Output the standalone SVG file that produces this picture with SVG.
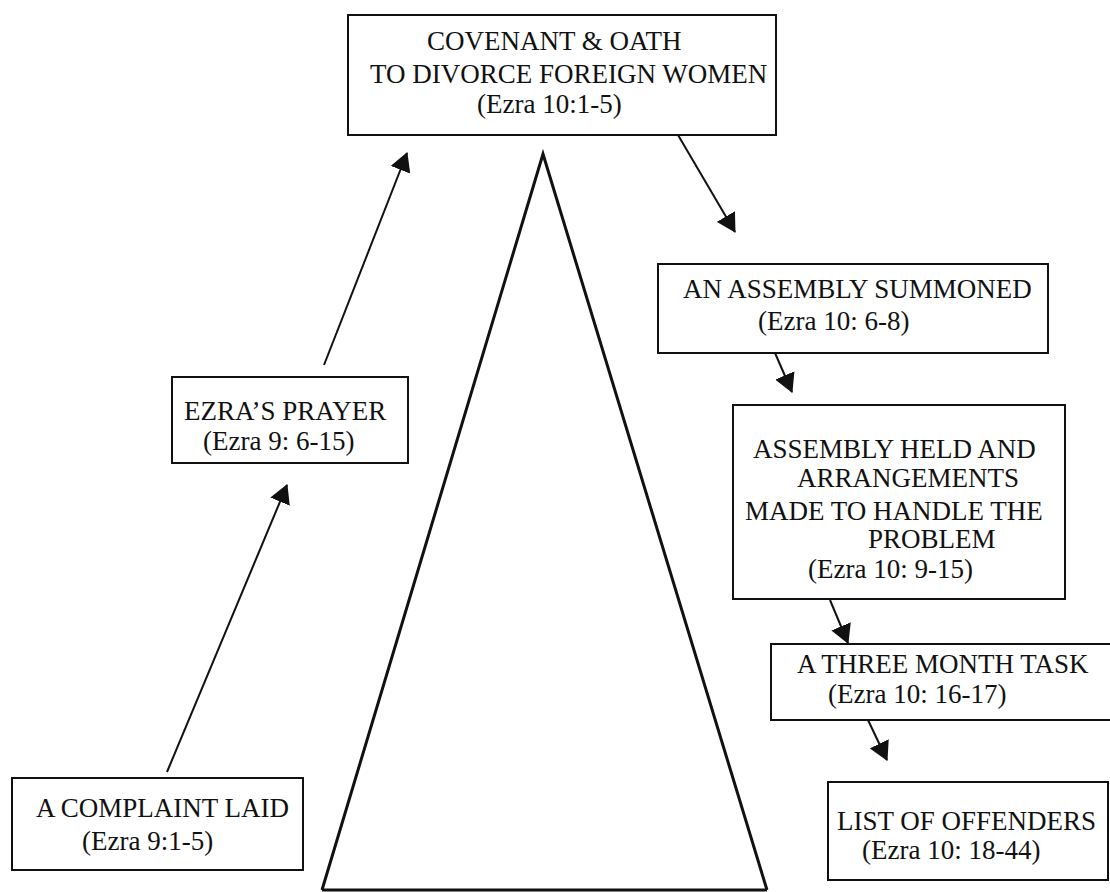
<svg xmlns="http://www.w3.org/2000/svg" width="1110" height="892" viewBox="0 0 1110 892">
<style>
.box{fill:#fff;stroke:#111;stroke-width:2}
.t{font-family:"Liberation Serif","Times New Roman",serif;font-size:27px;fill:#111}
.c{stroke:#111;stroke-width:2;fill:none}
.tri{stroke:#111;stroke-width:3;fill:none;stroke-linejoin:miter}
</style>
<defs>
<marker id="ah" markerUnits="userSpaceOnUse" markerWidth="19" markerHeight="21" viewBox="0 0 19 21" refX="18" refY="10.5" orient="auto">
<path d="M0,0 L19,10.5 L0,21 z" fill="#111"/>
</marker>
</defs>
<rect width="1110" height="892" fill="#fff"/>
<g id="pyramid">
<polyline class="tri" points="322,890 543,154 767,890"/>
<line class="tri" x1="322" y1="890" x2="767" y2="890"/>
</g>
<g id="connectors">
<line class="c" x1="167" y1="772" x2="287" y2="485" marker-end="url(#ah)"/>
<line class="c" x1="324" y1="365" x2="407" y2="153" marker-end="url(#ah)"/>
<line class="c" x1="678" y1="135" x2="735" y2="232" marker-end="url(#ah)"/>
<line class="c" x1="775" y1="353" x2="792" y2="392" marker-end="url(#ah)"/>
<line class="c" x1="830" y1="600" x2="848" y2="643" marker-end="url(#ah)"/>
<line class="c" x1="868" y1="720" x2="887" y2="760" marker-end="url(#ah)"/>
</g>
<g id="covenant">
<rect class="box" x="348" y="15" width="428" height="120"/>
<text class="t" x="427" y="50">COVENANT &amp; OATH</text>
<text class="t" x="370" y="83">TO DIVORCE FOREIGN WOMEN</text>
<text class="t" x="477" y="113">(Ezra 10:1-5)</text>
</g>
<g id="prayer">
<rect class="box" x="172" y="377" width="236" height="86"/>
<text class="t" x="184" y="420">EZRA’S PRAYER</text>
<text class="t" x="203" y="450">(Ezra 9: 6-15)</text>
</g>
<g id="complaint">
<rect class="box" x="12" y="778" width="291" height="92"/>
<text class="t" x="36" y="817">A COMPLAINT LAID</text>
<text class="t" x="82" y="850">(Ezra 9:1-5)</text>
</g>
<g id="summoned">
<rect class="box" x="658" y="264" width="390" height="89"/>
<text class="t" x="683" y="298">AN ASSEMBLY SUMMONED</text>
<text class="t" x="758" y="330">(Ezra 10: 6-8)</text>
</g>
<g id="held">
<rect class="box" x="733" y="405" width="332" height="194"/>
<text class="t" x="753" y="458">ASSEMBLY HELD AND</text>
<text class="t" x="797" y="487">ARRANGEMENTS</text>
<text class="t" x="745" y="520">MADE TO HANDLE THE</text>
<text class="t" x="868" y="548">PROBLEM</text>
<text class="t" x="808" y="578">(Ezra 10: 9-15)</text>
</g>
<g id="three-month">
<rect class="box" x="771" y="644" width="341" height="76"/>
<text class="t" x="797" y="673">A THREE MONTH TASK</text>
<text class="t" x="828" y="703">(Ezra 10: 16-17)</text>
</g>
<g id="offenders">
<rect class="box" x="828" y="782" width="280" height="98"/>
<text class="t" x="837" y="830">LIST OF OFFENDERS</text>
<text class="t" x="862" y="859">(Ezra 10: 18-44)</text>
</g>
</svg>
